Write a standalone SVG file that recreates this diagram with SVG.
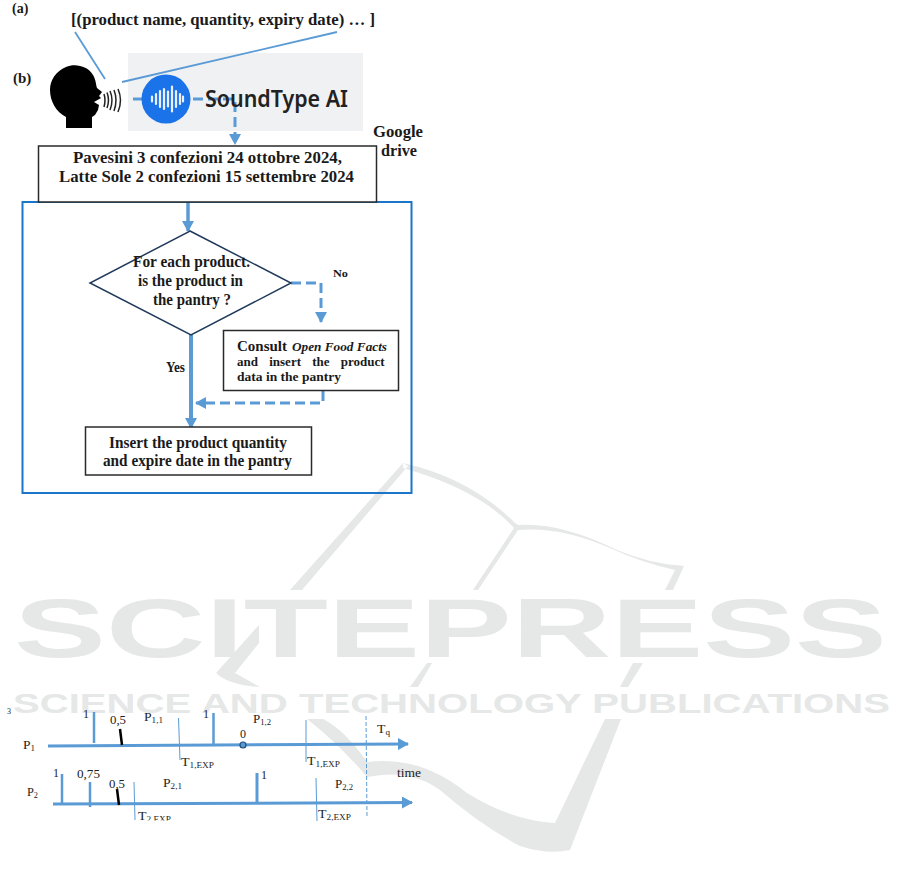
<svg xmlns="http://www.w3.org/2000/svg" width="901" height="887" viewBox="0 0 901 887">
<style>
text{font-family:"Liberation Serif","Times New Roman",serif;fill:#1a1a1a}
.b{font-weight:bold}
.box{fill:#fff;stroke:#2a2a2a;stroke-width:1.5}
.flow{fill:none;stroke:#5b9bd5;stroke-width:3}
.dash{stroke-dasharray:10 5}
.thin{fill:none;stroke:#5b9bd5;stroke-width:1}
.tick{fill:none;stroke:#5b9bd5;stroke-width:2.5}
.blk{fill:none;stroke:#000;stroke-width:2.5}
.wmf{fill:#e6e7e7}
.wmt{font-family:"Liberation Sans",Arial,sans-serif;font-weight:bold;fill:#e6e7e7}
.t{font-size:12px;fill:#222}
.s{font-size:8px;fill:#222}
</style>
<defs>
<marker id="ah" markerUnits="userSpaceOnUse" markerWidth="12" markerHeight="12" refX="10" refY="6" orient="auto"><path d="M0 0L11 6L0 12Z" fill="#5b9bd5"/></marker>
<clipPath id="cut"><rect x="130" y="800" width="60" height="20.500"/></clipPath>
</defs>
<rect width="901" height="887" fill="#fff"/>
<g id="watermark">
<text class="wmt" x="14" y="657" font-size="84" textLength="873" lengthAdjust="spacingAndGlyphs">SCITEPRESS</text>
<text class="wmt" x="13" y="713" font-size="28" textLength="877" lengthAdjust="spacingAndGlyphs">SCIENCE AND TECHNOLOGY PUBLICATIONS</text>
<path class="wmf" d="M403 463L290 590H302L408 466ZM403 463Q470 478 515 523L518 525Q560 522 617 550Q650 564 684 566L673 590H665L675 570Q640 562 610 548Q560 526 518 530L478 590H473L514 528Q480 490 403 468Z"/>
<path class="wmf" d="M259 625L216 673Q228 685 260 687L235 673L259 643ZM440 642H445L438 652ZM427 663H432L418 687H410ZM633 663H643L628 687H620Z"/>
<path class="wmf" d="M307 719H323Q345 730 367 762Q420 755 467 793Q510 820 555 823L605 719H621L570 850Q548 855 520 846Q480 825 440 790Q410 768 367 777Q340 745 307 719Z"/>
</g>
<g id="label-a"><text class="b" x="12" y="13" font-size="14">(a)</text></g>
<g id="label-b"><text class="b" x="13" y="83" font-size="15">(b)</text></g>
<g id="format-label"><text class="b" x="71" y="25" font-size="16.500" textLength="304" lengthAdjust="spacingAndGlyphs">[(product name, quantity, expiry date) … ]</text></g>
<rect id="soundtype-panel" x="128" y="53" width="235" height="78" fill="#f0f1f3"/>
<g id="connectors">
<path class="thin" style="stroke-width:1.800" d="M75 32L105 79M122 82L337 32"/>
<path class="flow dash" d="M133 99H235V144" marker-end="url(#ah)"/>
<path class="flow" style="stroke-width:3.500" d="M188 202V231" marker-end="url(#ah)"/>
<path class="flow dash" d="M291 283H321V322" marker-end="url(#ah)"/>
<path class="flow" style="stroke-width:4" d="M191 335V428" marker-end="url(#ah)"/>
<path class="flow dash" d="M323 391V403H196" marker-end="url(#ah)"/>
</g>
<g id="soundtype">
<circle cx="166" cy="99" r="24.500" fill="#1a73e8"/>
<path d="M152 96.500v5M156 94v10M160 91v16M164 89v20M168 91.500v15M172 86.500v25M176 91v16M180 94v10M183 96.500v5" stroke="#e8f0fe" stroke-width="2.200" stroke-linecap="round" fill="none"/>
<text x="205" y="107" font-size="24" font-weight="600" textLength="143" lengthAdjust="spacingAndGlyphs" style="font-family:'Noto Sans','Open Sans',sans-serif;fill:#222">SoundType AI</text>
</g>
<g id="speaker">
<path d="M66 67C75 63 88 66 93 75C96 80 96 85 97 88L102 92L99 96L101 98L94 102L99 105L98 110L95 115L92 117V128H66V117C56 112 50 101 50 90C50 80 56 71 66 67Z" fill="#000"/>
<path d="M104 94Q106 100 104 107M107 92.500Q110 100 107 108M110 91Q114 100 110 110M114 90Q118 100 114 111M118 89Q123 100 118 112" fill="none" stroke="#222" stroke-width="1.500"/>
</g>
<g id="pipeline-frame"><rect x="22.500" y="202" width="389" height="291" fill="none" stroke="#1b75c8" stroke-width="2"/></g>
<g id="google-drive">
<text class="b" x="373" y="137" font-size="16" textLength="50" lengthAdjust="spacingAndGlyphs">Google</text>
<text class="b" x="381" y="156" font-size="16" textLength="36" lengthAdjust="spacingAndGlyphs">drive</text>
</g>
<g id="transcript">
<rect class="box" x="38.500" y="146" width="338" height="56"/>
<text class="b" x="73" y="163" font-size="16.500" textLength="269" lengthAdjust="spacingAndGlyphs">Pavesini 3 confezioni 24 ottobre 2024,</text>
<text class="b" x="59" y="182" font-size="16.500" textLength="295" lengthAdjust="spacingAndGlyphs">Latte Sole 2 confezioni 15 settembre 2024</text>
</g>
<g id="decision">
<path d="M190 231L291 283L191 335L90 283Z" fill="none" stroke="#1f3a5a" stroke-width="1.500"/>
<text class="b" x="133" y="267" font-size="16" textLength="117" lengthAdjust="spacingAndGlyphs">For each product.</text>
<text class="b" x="138" y="286" font-size="16" textLength="105" lengthAdjust="spacingAndGlyphs">is the product in</text>
<text class="b" x="153" y="305" font-size="16" textLength="78" lengthAdjust="spacingAndGlyphs">the pantry ?</text>
</g>
<g id="label-no"><text class="b" x="333" y="277" font-size="11" textLength="15" lengthAdjust="spacingAndGlyphs">No</text></g>
<g id="label-yes"><text class="b" x="166" y="372" font-size="14" textLength="19" lengthAdjust="spacingAndGlyphs">Yes</text></g>
<g id="consult">
<rect class="box" x="223.500" y="330.500" width="175" height="60"/>
<text class="b" x="237" y="351" font-size="15.500" textLength="50" lengthAdjust="spacingAndGlyphs">Consult</text>
<text class="b" x="292" y="351" font-size="13" font-style="italic" textLength="95" lengthAdjust="spacingAndGlyphs">Open Food Facts</text>
<text class="b" x="237" y="366" font-size="13" word-spacing="8">and insert the product</text>
<text class="b" x="237" y="381" font-size="13" textLength="104" lengthAdjust="spacingAndGlyphs">data in the pantry</text>
</g>
<g id="insert">
<rect class="box" x="85.500" y="427" width="226" height="48"/>
<text class="b" x="109" y="448" font-size="16" textLength="178" lengthAdjust="spacingAndGlyphs">Insert the product quantity</text>
<text class="b" x="103" y="466" font-size="16" textLength="189" lengthAdjust="spacingAndGlyphs">and expire date  in the pantry</text>
</g>
<g id="timeline">
<text class="s" x="7" y="714">3</text>
<path class="flow" d="M48 746L408 744" marker-end="url(#ah)"/>
<path class="flow" d="M53 804L412 802.500" marker-end="url(#ah)"/>
<path class="tick" d="M94 712V743M213.500 713V745M62 774V805M90 782V807"/>
<path class="tick" style="stroke-width:3" d="M257 773V803"/>
<path class="blk" d="M120 729L122 745M117 789L119 805"/>
<path class="thin" d="M178.500 718L180 760M306 720V762M134 782L135 820M316 778L317 821"/>
<path class="thin dash" style="stroke-dasharray:4 2" d="M366 716L367 817"/>
<circle cx="243" cy="745" r="3" fill="#5b9bd5" stroke="#1f4e79" stroke-width="1.200"/>
<text class="t" x="83" y="718">1</text>
<text class="t" x="110" y="724" textLength="16" lengthAdjust="spacingAndGlyphs">0,5</text>
<text class="t" x="144" y="721" textLength="19" lengthAdjust="spacingAndGlyphs">P<tspan class="s" dy="2">1,1</tspan></text>
<text class="t" x="203" y="718">1</text>
<text class="t" x="253" y="723" textLength="18" lengthAdjust="spacingAndGlyphs">P<tspan class="s" dy="2">1,2</tspan></text>
<text class="t" x="240" y="738">0</text>
<text class="t" x="377" y="733" textLength="13" lengthAdjust="spacingAndGlyphs">T<tspan class="s" dy="2">q</tspan></text>
<text class="t" x="23" y="749" textLength="12" lengthAdjust="spacingAndGlyphs">P<tspan class="s" dy="2">1</tspan></text>
<text class="t" x="181" y="766" textLength="33" lengthAdjust="spacingAndGlyphs">T<tspan class="s" dy="2">1,EXP</tspan></text>
<text class="t" x="307" y="765" textLength="33" lengthAdjust="spacingAndGlyphs">T<tspan class="s" dy="2">1,EXP</tspan></text>
<text class="t" x="53" y="777">1</text>
<text class="t" x="77" y="778" textLength="23" lengthAdjust="spacingAndGlyphs">0,75</text>
<text class="t" x="109" y="788" textLength="16" lengthAdjust="spacingAndGlyphs">0,5</text>
<text class="t" x="163" y="787" textLength="19" lengthAdjust="spacingAndGlyphs">P<tspan class="s" dy="2">2,1</tspan></text>
<text class="t" x="261" y="779">1</text>
<text class="t" x="335" y="788" textLength="18" lengthAdjust="spacingAndGlyphs">P<tspan class="s" dy="2">2,2</tspan></text>
<text class="t" x="397" y="777" textLength="24" lengthAdjust="spacingAndGlyphs">time</text>
<text class="t" x="27" y="796" textLength="11" lengthAdjust="spacingAndGlyphs">P<tspan class="s" dy="2">2</tspan></text>
<text class="t" x="138" y="820" textLength="33" lengthAdjust="spacingAndGlyphs" clip-path="url(#cut)">T<tspan class="s" dy="2">2,EXP</tspan></text>
<text class="t" x="318" y="818" textLength="33" lengthAdjust="spacingAndGlyphs">T<tspan class="s" dy="2">2,EXP</tspan></text>
</g>
</svg>
